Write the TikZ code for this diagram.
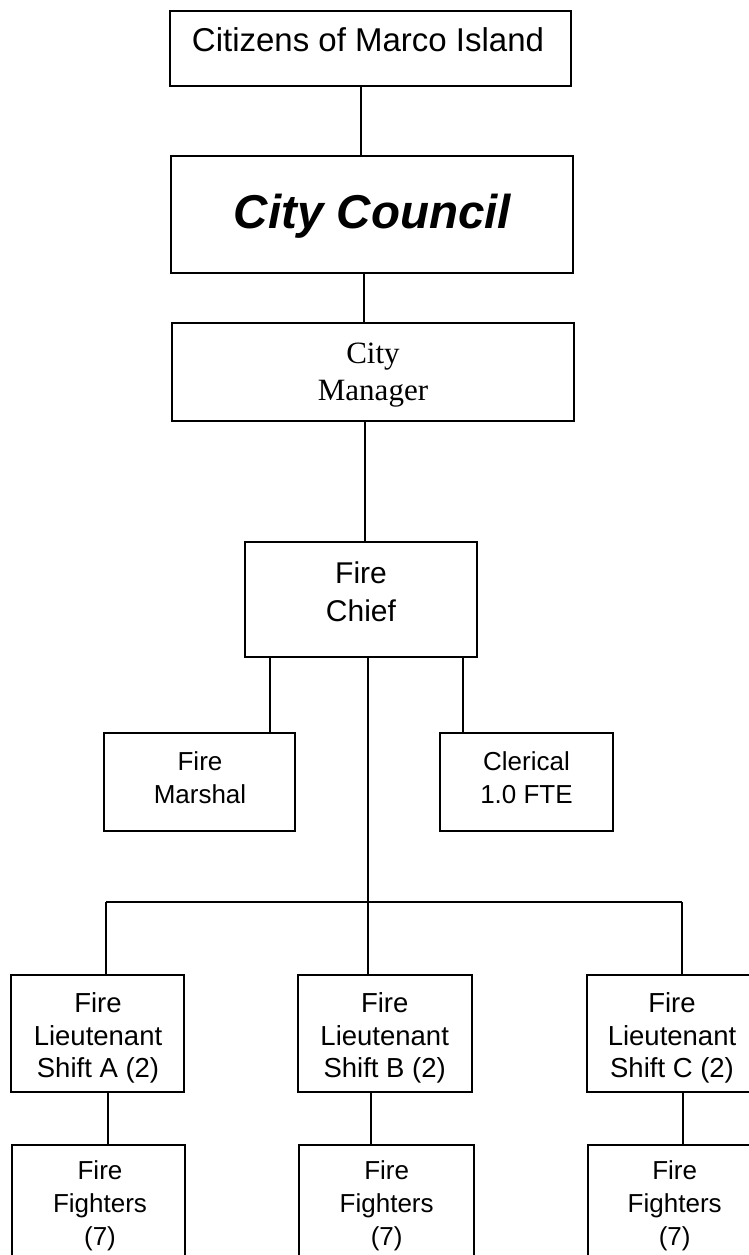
\documentclass[tikz,border=0pt]{standalone}
\usepackage{fontspec}
\setmainfont{Liberation Sans}
\newfontfamily\serifface{Liberation Serif}
\begin{document}
\begin{tikzpicture}[x=1pt,y=-1pt,
  box/.style={draw=black,line width=2.4pt,inner sep=0pt,fill=white},
  lbl/.style={align=center,inner sep=0pt,text=black},
  small/.style={lbl,font=\fontsize{26}{32.7}\selectfont},
  lt/.style={lbl,font=\fontsize{27.5}{32.7}\selectfont},
  link/.style={draw=black,line width=2pt}]
\useasboundingbox (0,0) rectangle (749,1255);
\clip (0,0) rectangle (749,1255);
\fill[white] (0,0) rectangle (749,1255);

% top of the chain
\node[box,minimum width=401pt,minimum height=75pt] (citizens) at (370.5,48.5) {};
\node[lbl,anchor=base,font=\fontsize{33}{39}\selectfont] (citizens-t) at (368,52) {Citizens of Marco Island};

\node[box,minimum width=402pt,minimum height=117pt] (council) at (372,214.5) {};
\node[lbl,anchor=base,font=\fontsize{47.5}{56}\selectfont\bfseries\itshape] (council-t) at (372.5,228) {City Council};

\node[box,minimum width=402pt,minimum height=98pt] (manager) at (373,372) {};
\node[lbl,font=\fontsize{31}{37}\selectfont\serifface] (manager-t) at (373,374.7) {City\\Manager};

\node[box,minimum width=232pt,minimum height=115pt] (chief) at (361,599.5) {};
\node[lbl,font=\fontsize{30}{38}\selectfont] (chief-t) at (361,591.5) {Fire\\Chief};

% staff reporting to the chief
\node[box,minimum width=191pt,minimum height=98pt] (marshal) at (199.5,782) {};
\node[small] (marshal-t) at (200,777.6) {Fire\\Marshal};

\node[box,minimum width=173pt,minimum height=98pt] (clerical) at (526.5,782) {};
\node[small] (clerical-t) at (526.5,777.6) {Clerical\\1.0 FTE};

% shift lieutenants
\node[box,minimum width=173pt,minimum height=117pt] (ltA) at (97.5,1033.5) {};
\node[lt] (ltA-t) at (98,1037.9) {Fire\\Lieutenant\\Shift A (2)};
\node[box,minimum width=174pt,minimum height=117pt] (ltB) at (385,1033.5) {};
\node[lt] (ltB-t) at (384.7,1037.9) {Fire\\Lieutenant\\Shift B (2)};
\node[box,minimum width=170pt,minimum height=117pt] (ltC) at (672,1033.5) {};
\node[lt] (ltC-t) at (672,1037.9) {Fire\\Lieutenant\\Shift C (2)};

% fire fighters
\node[box,minimum width=173pt,minimum height=122pt] (ffA) at (98.5,1206) {};
\node[small] (ffA-t) at (100,1205.8) {Fire\\Fighters\\(7)};
\node[box,minimum width=175pt,minimum height=122pt] (ffB) at (386.5,1206) {};
\node[small] (ffB-t) at (386.7,1205.8) {Fire\\Fighters\\(7)};
\node[box,minimum width=173pt,minimum height=122pt] (ffC) at (674.5,1206) {};
\node[small] (ffC-t) at (674.7,1205.8) {Fire\\Fighters\\(7)};

% connector columns
\coordinate (c1) at (361,0);
\coordinate (c2) at (364,0);
\coordinate (c3) at (365,0);
\coordinate (cM) at (270,0);
\coordinate (cC) at (463,0);
\coordinate (busA) at (106,902);
\coordinate (busB) at (368,902);
\coordinate (busC) at (682,902);
\coordinate (dA) at (108,0);
\coordinate (dB) at (371,0);
\coordinate (dC) at (683,0);

\draw[link] (citizens.south -| c1) -- (council.north -| c1);
\draw[link] (council.south -| c2) -- (manager.north -| c2);
\draw[link] (manager.south -| c3) -- (chief.north -| c3);
\draw[link] (chief.south -| cM) -- (marshal.north -| cM);
\draw[link] (chief.south -| cC) -- (clerical.north -| cC);
\draw[link] (chief.south -| busB) -- (busB);
\draw[link] (busA) -- (busC);
\draw[link] (busA) -- (ltA.north -| busA);
\draw[link] (busB) -- (ltB.north -| busB);
\draw[link] (busC) -- (ltC.north -| busC);
\draw[link] (ltA.south -| dA) -- (ffA.north -| dA);
\draw[link] (ltB.south -| dB) -- (ffB.north -| dB);
\draw[link] (ltC.south -| dC) -- (ffC.north -| dC);
\end{tikzpicture}
\end{document}
